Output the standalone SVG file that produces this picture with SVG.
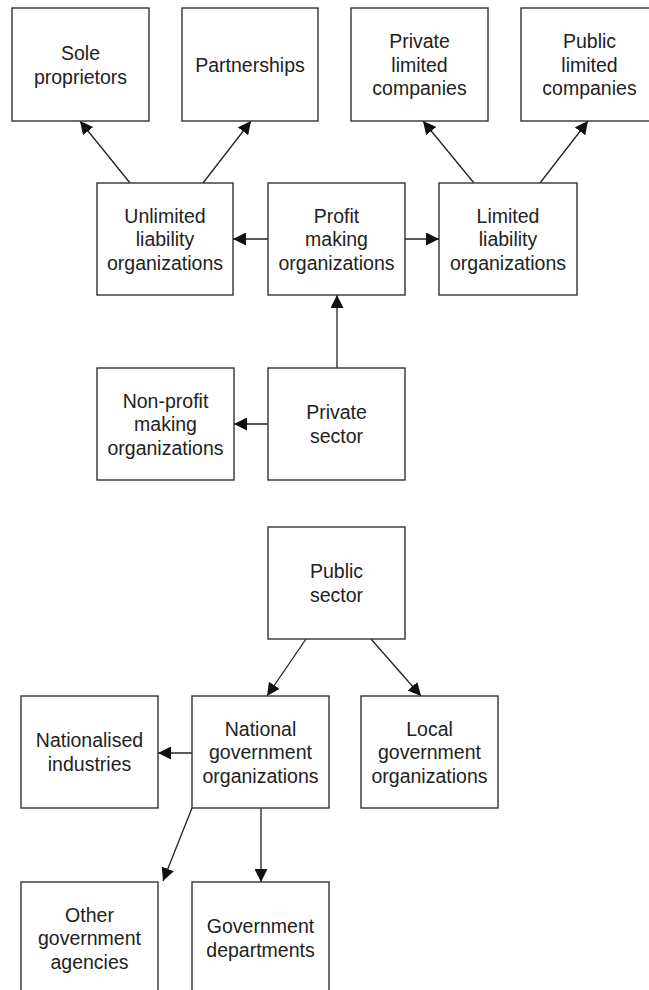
<svg xmlns="http://www.w3.org/2000/svg" width="649" height="990" viewBox="0 0 649 990">
<defs>
<marker id="ah" markerUnits="userSpaceOnUse" markerWidth="14" markerHeight="13" refX="13" refY="6.5" orient="auto">
<path d="M0,0 L13,6.5 L0,13 z" fill="#111"/>
</marker>
<style>
.b{fill:#fff;stroke:#333;stroke-width:1.4}
.t{font-family:"Liberation Sans",Arial,sans-serif;font-size:19.5px;fill:#222;text-anchor:middle}
.c{stroke:#222;stroke-width:1.3;fill:none;marker-end:url(#ah)}
</style>
</defs>
<rect width="649" height="990" fill="#fff"/>
<g id="connectors">
<line class="c" x1="130" y1="183" x2="80" y2="121"/>
<line class="c" x1="203" y1="183" x2="251" y2="121"/>
<line class="c" x1="474" y1="183" x2="423" y2="121"/>
<line class="c" x1="540" y1="183" x2="588" y2="121"/>
<line class="c" x1="268" y1="239" x2="233" y2="239"/>
<line class="c" x1="405" y1="239" x2="439" y2="239"/>
<line class="c" x1="337" y1="368" x2="337" y2="295"/>
<line class="c" x1="268" y1="424" x2="234" y2="424"/>
<line class="c" x1="306" y1="639" x2="267" y2="696"/>
<line class="c" x1="371" y1="639" x2="421" y2="696"/>
<line class="c" x1="192" y1="753" x2="158" y2="753"/>
<line class="c" x1="192" y1="808" x2="163" y2="881"/>
<line class="c" x1="261" y1="808" x2="261" y2="882"/>
</g>
<g id="sole"><rect class="b" x="12" y="8" width="137" height="113"/><text class="t" x="80.5" y="60">Sole</text><text class="t" x="80.5" y="84">proprietors</text></g>
<g id="partnerships"><rect class="b" x="182" y="8" width="136" height="113"/><text class="t" x="250" y="72">Partnerships</text></g>
<g id="private_ltd"><rect class="b" x="351" y="8" width="137" height="113"/><text class="t" x="419.5" y="48">Private</text><text class="t" x="419.5" y="72">limited</text><text class="t" x="419.5" y="95">companies</text></g>
<g id="public_ltd"><rect class="b" x="521" y="8" width="137" height="113"/><text class="t" x="589.5" y="48">Public</text><text class="t" x="589.5" y="72">limited</text><text class="t" x="589.5" y="95">companies</text></g>
<g id="unlimited"><rect class="b" x="97" y="183" width="136" height="112"/><text class="t" x="165" y="223">Unlimited</text><text class="t" x="165" y="246">liability</text><text class="t" x="165" y="270">organizations</text></g>
<g id="profit"><rect class="b" x="268" y="183" width="137" height="112"/><text class="t" x="336.5" y="223">Profit</text><text class="t" x="336.5" y="246">making</text><text class="t" x="336.5" y="270">organizations</text></g>
<g id="limited"><rect class="b" x="439" y="183" width="138" height="112"/><text class="t" x="508" y="223">Limited</text><text class="t" x="508" y="246">liability</text><text class="t" x="508" y="270">organizations</text></g>
<g id="nonprofit"><rect class="b" x="97" y="368" width="137" height="112"/><text class="t" x="165.5" y="408">Non-profit</text><text class="t" x="165.5" y="431">making</text><text class="t" x="165.5" y="455">organizations</text></g>
<g id="private_sector"><rect class="b" x="268" y="368" width="137" height="112"/><text class="t" x="336.5" y="419">Private</text><text class="t" x="336.5" y="443">sector</text></g>
<g id="public_sector"><rect class="b" x="268" y="527" width="137" height="112"/><text class="t" x="336.5" y="578">Public</text><text class="t" x="336.5" y="602">sector</text></g>
<g id="nationalised"><rect class="b" x="21" y="696" width="137" height="112"/><text class="t" x="89.5" y="747">Nationalised</text><text class="t" x="89.5" y="771">industries</text></g>
<g id="national"><rect class="b" x="192" y="696" width="137" height="112"/><text class="t" x="260.5" y="736">National</text><text class="t" x="260.5" y="759">government</text><text class="t" x="260.5" y="783">organizations</text></g>
<g id="local"><rect class="b" x="361" y="696" width="137" height="112"/><text class="t" x="429.5" y="736">Local</text><text class="t" x="429.5" y="759">government</text><text class="t" x="429.5" y="783">organizations</text></g>
<g id="other"><rect class="b" x="21" y="882" width="137" height="112"/><text class="t" x="89.5" y="922">Other</text><text class="t" x="89.5" y="945">government</text><text class="t" x="89.5" y="969">agencies</text></g>
<g id="govdept"><rect class="b" x="192" y="882" width="137" height="112"/><text class="t" x="260.5" y="933">Government</text><text class="t" x="260.5" y="957">departments</text></g>
</svg>
